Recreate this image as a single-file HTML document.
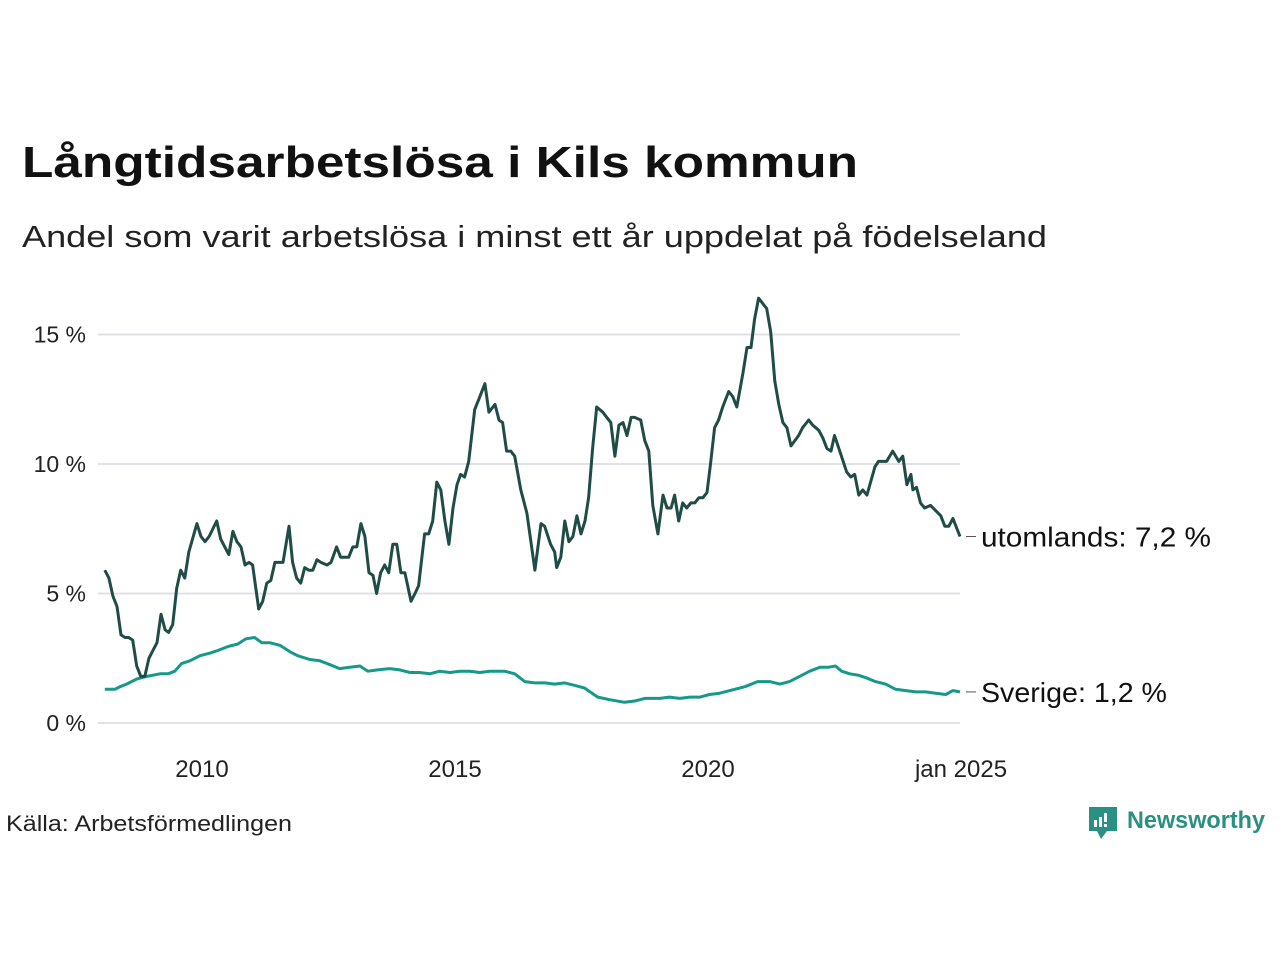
<!DOCTYPE html>
<html><head><meta charset="utf-8"><style>
html,body{margin:0;padding:0;background:#fff;}
svg{display:block;font-family:"Liberation Sans",sans-serif;}
</style></head><body>
<svg id="chart" width="1280" height="960" viewBox="0 0 1280 960">
<text x="22" y="177" font-size="44" font-weight="bold" fill="#111" textLength="836" lengthAdjust="spacingAndGlyphs">Långtidsarbetslösa i Kils kommun</text>
<text x="22" y="247" font-size="31" fill="#222" textLength="1025" lengthAdjust="spacingAndGlyphs">Andel som varit arbetslösa i minst ett år uppdelat på födelseland</text>
<g id="grid"></g>
<g id="series"></g>
<text x="6" y="831" font-size="22" fill="#222" textLength="286" lengthAdjust="spacingAndGlyphs">Källa: Arbetsförmedlingen</text>
<g>
<path d="M1089 807h28v24h-10l-6 8-4-8h-8z" fill="#2a9082"/>
<rect x="1094" y="820" width="3" height="7" fill="#fff"/><rect x="1099" y="817" width="3" height="10" fill="#fff"/><rect x="1104" y="813" width="3" height="9" fill="#fff"/><rect x="1104" y="824" width="3" height="3" fill="#fff"/>
<text x="1127" y="828" font-size="24" font-weight="bold" fill="#2a9082" textLength="138" lengthAdjust="spacingAndGlyphs">Newsworthy</text>
</g>
</svg>
<script>
const foreignDates=[2008.08,2008.16,2008.24,2008.32,2008.40,2008.48,2008.55,2008.63,2008.71,2008.79,2008.87,2008.95,2009.03,2009.11,2009.19,2009.27,2009.34,2009.42,2009.50,2009.58,2009.66,2009.74,2009.90,2009.98,2010.06,2010.14,2010.29,2010.37,2010.45,2010.53,2010.61,2010.69,2010.77,2010.85,2010.93,2011.00,2011.12,2011.20,2011.28,2011.36,2011.44,2011.60,2011.72,2011.79,2011.87,2011.95,2012.03,2012.11,2012.19,2012.27,2012.35,2012.47,2012.55,2012.66,2012.74,2012.82,2012.90,2012.98,2013.06,2013.14,2013.22,2013.30,2013.38,2013.45,2013.53,2013.61,2013.69,2013.77,2013.85,2013.93,2014.01,2014.13,2014.21,2014.28,2014.40,2014.48,2014.56,2014.64,2014.72,2014.80,2014.88,2014.96,2015.04,2015.11,2015.19,2015.27,2015.39,2015.47,2015.59,2015.67,2015.79,2015.87,2015.94,2016.02,2016.10,2016.18,2016.30,2016.42,2016.58,2016.70,2016.77,2016.89,2016.97,2017.01,2017.09,2017.17,2017.25,2017.33,2017.41,2017.49,2017.57,2017.64,2017.72,2017.80,2017.92,2018.00,2018.08,2018.16,2018.24,2018.32,2018.40,2018.48,2018.55,2018.67,2018.75,2018.83,2018.91,2019.01,2019.11,2019.19,2019.27,2019.34,2019.42,2019.50,2019.58,2019.66,2019.74,2019.82,2019.90,2019.98,2020.05,2020.13,2020.21,2020.29,2020.41,2020.49,2020.57,2020.69,2020.77,2020.85,2020.92,2021.00,2021.16,2021.24,2021.32,2021.40,2021.48,2021.56,2021.64,2021.79,2021.87,2021.99,2022.07,2022.19,2022.27,2022.35,2022.43,2022.50,2022.62,2022.74,2022.82,2022.90,2022.98,2023.06,2023.14,2023.30,2023.37,2023.45,2023.53,2023.65,2023.77,2023.85,2023.93,2024.01,2024.05,2024.12,2024.20,2024.28,2024.40,2024.60,2024.68,2024.76,2024.84,2024.98];
const foreignValues=[5.9,5.6,4.9,4.5,3.4,3.3,3.3,3.2,2.2,1.8,1.8,2.5,2.8,3.1,4.2,3.6,3.5,3.8,5.2,5.9,5.6,6.6,7.7,7.2,7.0,7.2,7.8,7.1,6.8,6.5,7.4,7.0,6.8,6.1,6.2,6.1,4.4,4.7,5.4,5.5,6.2,6.2,7.6,6.2,5.6,5.4,6.0,5.9,5.9,6.3,6.2,6.1,6.2,6.8,6.4,6.4,6.4,6.8,6.8,7.7,7.2,5.8,5.7,5.0,5.8,6.1,5.8,6.9,6.9,5.8,5.8,4.7,5.0,5.3,7.3,7.3,7.8,9.3,9.0,7.8,6.9,8.3,9.2,9.6,9.5,10.1,12.1,12.5,13.1,12.0,12.3,11.7,11.6,10.5,10.5,10.3,9.0,8.1,5.9,7.7,7.6,6.9,6.6,6.0,6.4,7.8,7.0,7.2,8.0,7.3,7.8,8.7,10.6,12.2,12.0,11.8,11.6,10.3,11.5,11.6,11.1,11.8,11.8,11.7,10.9,10.5,8.4,7.3,8.8,8.3,8.3,8.8,7.8,8.5,8.3,8.5,8.5,8.7,8.7,8.9,10.0,11.4,11.7,12.2,12.8,12.6,12.2,13.5,14.5,14.5,15.6,16.4,16.0,15.1,13.2,12.3,11.6,11.4,10.7,11.1,11.4,11.7,11.5,11.3,11.0,10.6,10.5,11.1,10.4,9.7,9.5,9.6,8.8,9.0,8.8,9.9,10.1,10.1,10.1,10.5,10.1,10.3,9.2,9.6,9.0,9.1,8.5,8.3,8.4,8.0,7.6,7.6,7.9,7.2];
const swedenDates=[2008.08,2008.28,2008.38,2008.51,2008.71,2008.91,2009.17,2009.33,2009.46,2009.60,2009.76,2009.96,2010.16,2010.31,2010.51,2010.71,2010.87,2011.04,2011.18,2011.34,2011.54,2011.74,2011.89,2012.13,2012.33,2012.53,2012.72,2012.92,2013.12,2013.28,2013.47,2013.71,2013.91,2014.11,2014.30,2014.50,2014.70,2014.90,2015.10,2015.29,2015.49,2015.69,2015.98,2016.18,2016.38,2016.58,2016.77,2016.97,2017.17,2017.37,2017.56,2017.82,2018.06,2018.35,2018.55,2018.75,2019.05,2019.24,2019.44,2019.64,2019.84,2020.03,2020.23,2020.53,2020.73,2020.98,2021.22,2021.42,2021.61,2021.81,2022.01,2022.21,2022.37,2022.52,2022.64,2022.80,2022.96,2023.12,2023.31,2023.51,2023.71,2023.91,2024.11,2024.30,2024.50,2024.70,2024.84,2024.98];
const swedenValues=[1.3,1.3,1.4,1.5,1.7,1.8,1.9,1.9,2.0,2.3,2.4,2.6,2.7,2.8,2.95,3.05,3.25,3.3,3.1,3.1,3.0,2.75,2.6,2.45,2.4,2.25,2.1,2.15,2.2,2.0,2.05,2.1,2.05,1.95,1.95,1.9,2.0,1.95,2.0,2.0,1.95,2.0,2.0,1.9,1.6,1.55,1.55,1.5,1.55,1.45,1.35,1.0,0.9,0.8,0.85,0.95,0.95,1.0,0.95,1.0,1.0,1.1,1.15,1.3,1.4,1.6,1.6,1.5,1.6,1.8,2.0,2.15,2.15,2.2,2.0,1.9,1.85,1.75,1.6,1.5,1.3,1.25,1.2,1.2,1.15,1.1,1.25,1.2];
const yTicks=[0,5,10,15];
const yTickLabels=["0 %","5 %","10 %","15 %"];
const xTicks=[2010,2015,2020,2025];
const xTickLabels=["2010","2015","2020","jan 2025"];
const seriesLabels=["utomlands: 7,2 %","Sverige: 1,2 %"];

const NS="http://www.w3.org/2000/svg";
const xS=t=>202+(t-2010)*50.6;
const yS=v=>723-v*25.9;
const grid=document.getElementById('grid');
const series=document.getElementById('series');
function mk(tag,attrs,parent){const e=document.createElementNS(NS,tag);for(const k in attrs)e.setAttribute(k,attrs[k]);parent.appendChild(e);return e;}
yTicks.forEach((v,i)=>{
  const l=mk('line',{x1:98,x2:960,y1:yS(v),y2:yS(v),stroke:'#e2e2e6','stroke-width':2},grid);
  
  
  const t=mk('text',{x:86,y:yS(v)+8,'text-anchor':'end','font-size':23,fill:'#222'},grid);
  t.textContent=yTickLabels[i];
  
  
});
xTicks.forEach((v,i)=>{
  const t=mk('text',{x:xS(v),y:777,'text-anchor':'middle','font-size':24,fill:'#222'},grid);
  t.textContent=xTickLabels[i];
  
  
});
function line(d,v,color,name){
  const p=mk('polyline',{points:d.map((t,i)=>xS(t).toFixed(1)+','+yS(v[i]).toFixed(1)).join(' '),fill:'none',stroke:color,'stroke-width':3,'stroke-linejoin':'round'},series);
  
  
}
line(swedenDates,swedenValues,'#16998a','line-sverige');
line(foreignDates,foreignValues,'#1f4d45','line-utomlands');
function endLabel(d,v,txt,name,w){
  const x=xS(d[d.length-1]),y=yS(v[v.length-1]);
  const l=mk('line',{x1:x+6,x2:x+16,y1:y,y2:y,stroke:'#555','stroke-width':1},series);
  
  
  const t=mk('text',{x:x+21,y:y+10,'font-size':28,fill:'#111',textLength:w,lengthAdjust:'spacingAndGlyphs'},series);
  t.textContent=txt;
  
  
}
endLabel(foreignDates,foreignValues,seriesLabels[0],'label-utomlands',230);
endLabel(swedenDates,swedenValues,seriesLabels[1],'label-sverige',186);
</script>
</body></html>
